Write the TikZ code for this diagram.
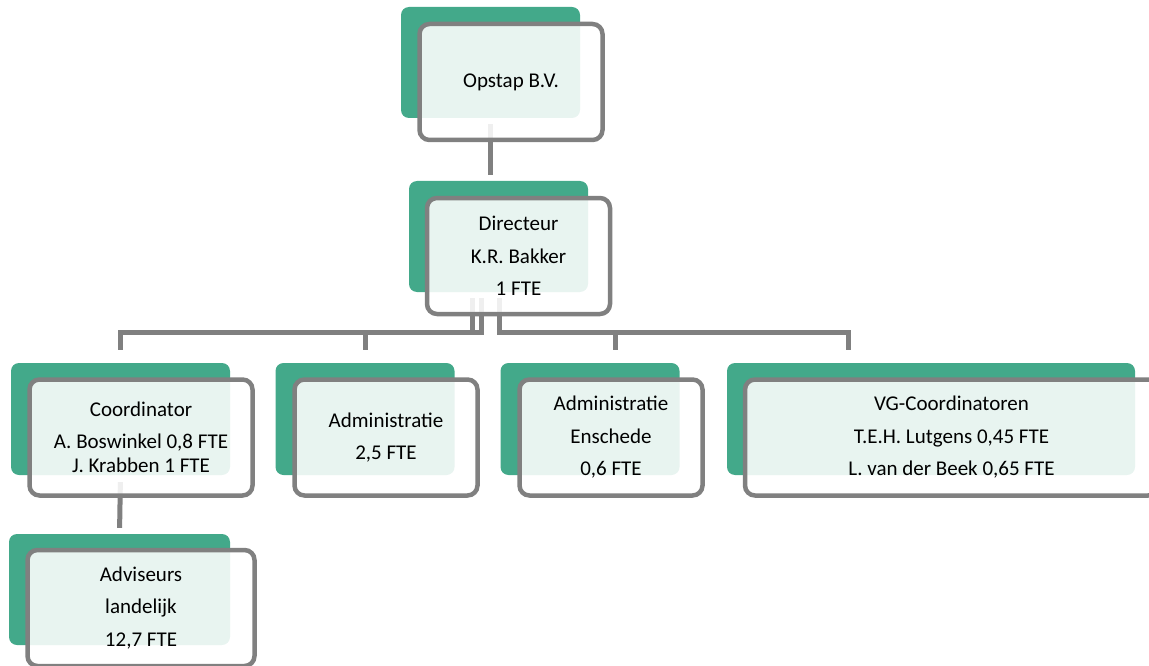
\documentclass[tikz,border=0pt]{standalone}
\usepackage{fontspec}
\setmainfont{Carlito}
\definecolor{groen}{RGB}{67,169,138}
\definecolor{grijs}{RGB}{128,128,128}
\tikzset{
vlak/.style={rectangle,fill=groen,rounded corners=8pt,inner sep=0pt,
  minimum width=179pt,minimum height=111pt},
kader/.style={rectangle,draw=grijs,line width=4.5pt,fill=white,fill opacity=0.88,
  text opacity=1,rounded corners=10pt,inner sep=0pt,align=center,
  font=\fontsize{21}{32.5}\selectfont,minimum width=183pt,minimum height=116pt},
lijn/.style={draw=grijs,line width=5pt,shorten <=6pt,shorten >=13pt}}

\begin{document}
\begin{tikzpicture}[x=1pt,y=-1pt]
\useasboundingbox (0,0) rectangle (1149,666);

% groene vlakken
\node[vlak] (opstap-g) at (490.5,62.5) {};
\node[vlak] (dir-g) at (498.5,236.5) {};
\node[vlak,minimum width=219pt,minimum height=112pt] (coord-g) at (120.5,419) {};
\node[vlak,minimum height=112pt] (adm-g) at (365,419) {};
\node[vlak,minimum height=112pt] (ens-g) at (590,419) {};
\node[vlak,minimum width=408pt,minimum height=112pt] (vg-g) at (931,419) {};
\node[vlak,minimum width=221pt] (adv-g) at (119.5,589.5) {};

% verbindingen
\draw[lijn,shorten >=6pt] (opstap-g.south) -- (opstap-g.south |- dir-g.north);
\draw[lijn] ([xshift=-26pt]dir-g.south) -- ++(0,40) -| (coord-g.north);
\draw[lijn] ([xshift=-17pt]dir-g.south) -- ++(0,40) -| (adm-g.north);
\draw[lijn] ([xshift=1pt]dir-g.south) -- ++(0,40) -| ([xshift=25pt]ens-g.north);
\draw[lijn] ([xshift=1pt]dir-g.south) -- ++(0,40) -| ([xshift=-83pt]vg-g.north);
\draw[lijn,shorten <=7pt,shorten >=6pt] (coord-g.south) -- (adv-g.north);

% kaders
\node[kader] (opstap) at ([shift={(20.5,19.5)}]opstap-g.center) {Opstap B.V.};
\node[kader] (dir) at ([shift={(20,19.5)}]dir-g.center) {Directeur\\K.R. Bakker\\1 FTE};
\node[kader,minimum width=223pt] (coord) at ([shift={(20.5,18.5)}]coord-g.center)
  {Coordinator\\A. Boswinkel 0,8 FTE\\[-8.5pt]J. Krabben 1 FTE};
\node[kader] (adm) at ([shift={(21,18.5)}]adm-g.center) {Administratie\\2,5 FTE};
\node[kader] (ens) at ([shift={(21,18.5)}]ens-g.center) {Administratie\\Enschede\\0,6 FTE};
\node[kader,minimum width=413pt] (vg) at ([shift={(20.5,18.5)}]vg-g.center)
  {VG-Coordinatoren\\T.E.H. Lutgens 0,45 FTE\\L. van der Beek 0,65 FTE};
\node[kader,minimum width=227pt] (adv) at ([shift={(21.5,18.5)}]adv-g.center)
  {Adviseurs\\landelijk\\12,7 FTE};
\end{tikzpicture}
\end{document}
